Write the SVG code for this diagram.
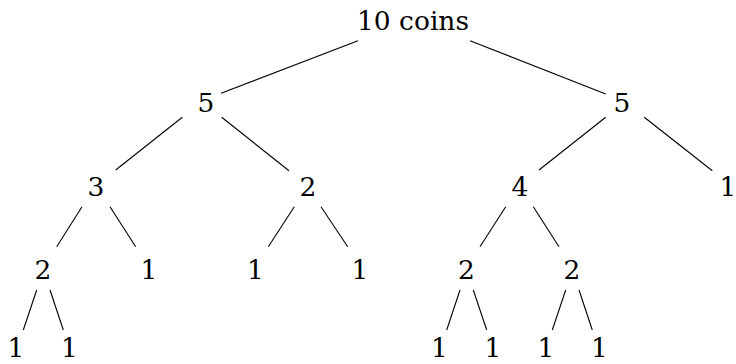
<svg xmlns="http://www.w3.org/2000/svg" width="736" height="364" viewBox="0 0 736 364">
  <style>
    .lbl { font-family: "DejaVu Serif", "Liberation Serif", serif; font-size: 26.5px; fill: #000; text-anchor: middle; }
    .edge { stroke: #000; stroke-width: 1.1; fill: none; }
  </style>
  <rect width="736" height="364" fill="#fff"/>

  <!-- connectors -->
  <g id="edges" class="edge">
    <line x1="358" y1="40.7" x2="221" y2="93.3"/>
    <line x1="470" y1="40.7" x2="605.7" y2="94"/>
    <line x1="182.3" y1="117.3" x2="115.7" y2="170"/>
    <line x1="221.7" y1="117.3" x2="289" y2="170.7"/>
    <line x1="605.7" y1="117.3" x2="539" y2="170"/>
    <line x1="644.3" y1="117.3" x2="712.3" y2="170.7"/>
    <line x1="82" y1="206.7" x2="56.7" y2="246.7"/>
    <line x1="110" y1="206.7" x2="135.7" y2="246.7"/>
    <line x1="294.3" y1="206.7" x2="268.3" y2="246.7"/>
    <line x1="321" y1="206.7" x2="347.7" y2="246.7"/>
    <line x1="505.7" y1="206.7" x2="480" y2="246.7"/>
    <line x1="533.3" y1="206.7" x2="559" y2="246.7"/>
    <line x1="36.7" y1="290" x2="23.3" y2="330"/>
    <line x1="50" y1="290" x2="63.3" y2="330"/>
    <line x1="460" y1="290" x2="446.7" y2="330"/>
    <line x1="473.3" y1="290" x2="486.7" y2="330"/>
    <line x1="565.7" y1="290" x2="552.3" y2="330"/>
    <line x1="579" y1="290" x2="592.3" y2="330"/>
  </g>

  <!-- nodes -->
  <g id="n-root"><text class="lbl" x="413" y="30">10 coins</text></g>
  <g id="n-5a"><text class="lbl" x="206" y="112">5</text></g>
  <g id="n-5b"><text class="lbl" x="622" y="112">5</text></g>
  <g id="n-3"><text class="lbl" x="96" y="196">3</text></g>
  <g id="n-2a"><text class="lbl" x="308" y="196">2</text></g>
  <g id="n-4"><text class="lbl" x="520" y="196">4</text></g>
  <g id="n-1a"><text class="lbl" x="728" y="196">1</text></g>
  <g id="n-2b"><text class="lbl" x="43" y="279">2</text></g>
  <g id="n-1b"><text class="lbl" x="149" y="279">1</text></g>
  <g id="n-1c"><text class="lbl" x="255.5" y="279">1</text></g>
  <g id="n-1d"><text class="lbl" x="360" y="279">1</text></g>
  <g id="n-2c"><text class="lbl" x="466.5" y="279">2</text></g>
  <g id="n-2d"><text class="lbl" x="572" y="279">2</text></g>
  <g id="n-1e"><text class="lbl" x="16" y="357">1</text></g>
  <g id="n-1f"><text class="lbl" x="69.5" y="357">1</text></g>
  <g id="n-1g"><text class="lbl" x="439.5" y="357">1</text></g>
  <g id="n-1h"><text class="lbl" x="493" y="357">1</text></g>
  <g id="n-1i"><text class="lbl" x="546" y="357">1</text></g>
  <g id="n-1j"><text class="lbl" x="599.5" y="357">1</text></g>
</svg>
